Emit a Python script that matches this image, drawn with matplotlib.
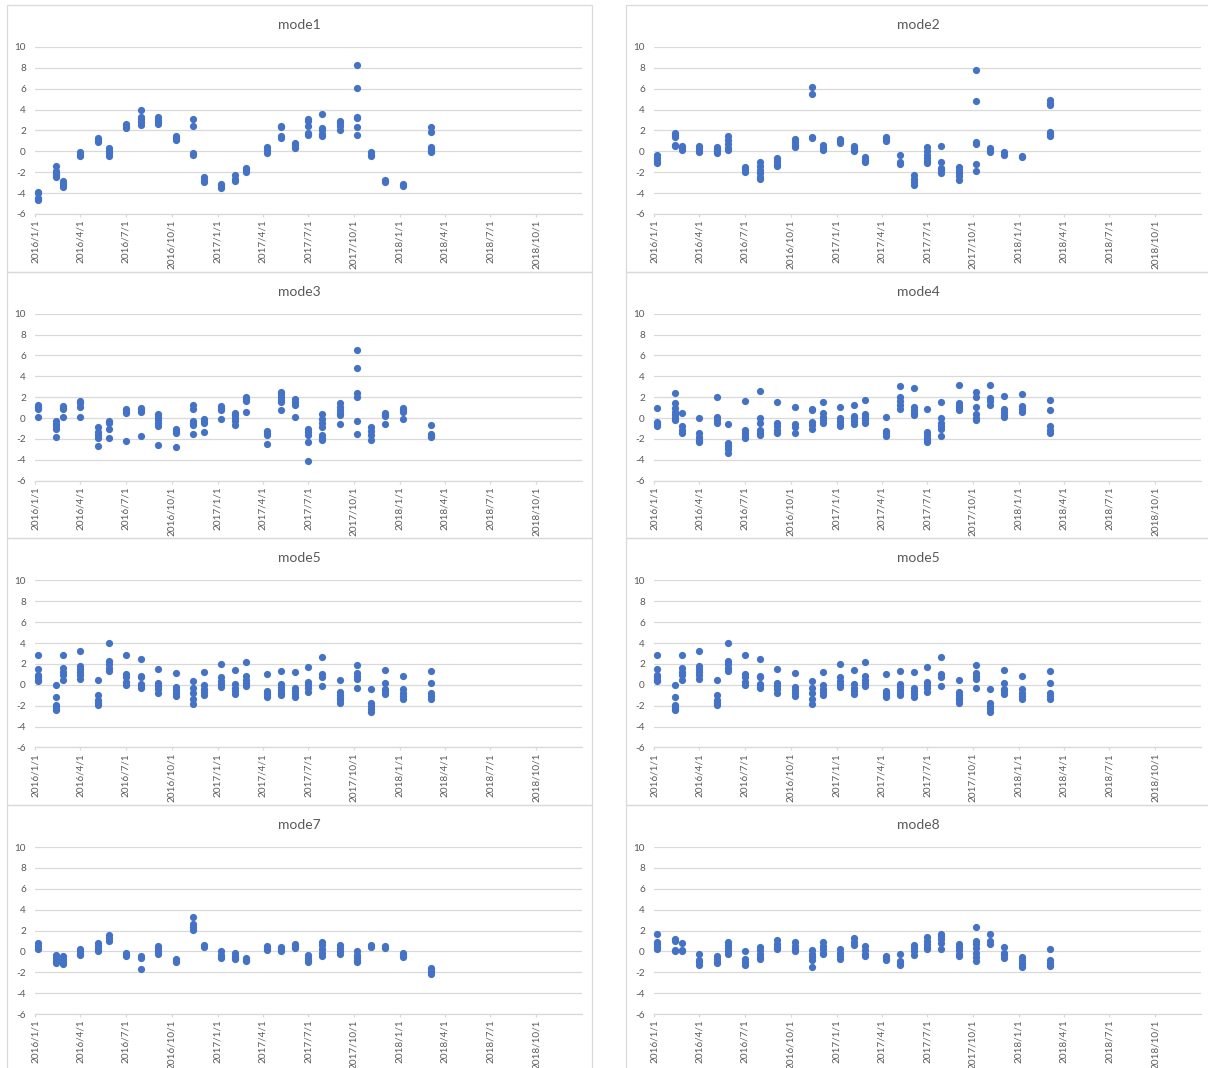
import matplotlib
matplotlib.use("Agg")
import matplotlib.pyplot as plt
import matplotlib.dates as mdates
from matplotlib.patches import Rectangle
import pandas as pd

plt.rcParams['font.family'] = ['Lato', 'DejaVu Sans']

# 采样日期（8个图共用）
dates = ['2016-01-08', '2016-02-13', '2016-02-27', '2016-04-01', '2016-05-07',
         '2016-05-29', '2016-07-02', '2016-07-31', '2016-09-04', '2016-10-09',
         '2016-11-12', '2016-12-04', '2017-01-08', '2017-02-05', '2017-02-26',
         '2017-04-09', '2017-05-08', '2017-06-04', '2017-07-02', '2017-07-30',
         '2017-09-03', '2017-10-08', '2017-11-04', '2017-12-02', '2018-01-07',
         '2018-03-04']

titles = ['mode1', 'mode2', 'mode3', 'mode4', 'mode5', 'mode5', 'mode7', 'mode8']

tick_dates = pd.date_range('2016-01-01', '2018-10-01', freq='QS')
yticks = [-6, -4, -2, 0, 2, 4, 6, 8, 10]

mode1 = [[-3.9, -4.0, -4.5, -4.6, -4.7], [-1.4, -1.9, -2.1, -2.3, -2.5], [-2.8, -3.0, -3.2, -3.4],
         [-0.1, -0.3, -0.4], [0.9, 1.1, 1.3], [0.3, 0.0, -0.2, -0.4], [2.2, 2.4, 2.6],
         [4.0, 3.3, 3.1, 2.8, 2.5], [3.3, 3.0, 2.8, 2.6], [1.5, 1.3, 1.1], [3.1, 2.4, -0.2, -0.3],
         [-2.5, -2.7, -2.9], [-3.1, -3.3, -3.5], [-2.3, -2.6, -2.8], [-1.6, -1.8, -2.0],
         [0.4, 0.1, -0.2], [2.4, 2.3, 1.5, 1.3], [0.8, 0.6, 0.3], [3.1, 2.9, 2.4, 1.8, 1.6],
         [3.6, 2.2, 2.0, 1.7, 1.5], [2.9, 2.7, 2.4, 2.0], [8.3, 6.1, 3.3, 3.2, 2.3, 1.6],
         [-0.1, -0.3, -0.4], [-2.7, -2.9], [-3.1, -3.3], [2.3, 1.9, 0.4, 0.2, 0.0, -0.1]]

mode2 = [[-0.3, -0.6, -0.9, -1.1], [1.8, 1.6, 1.4, 0.6, 0.5], [0.5, 0.3, 0.1],
         [0.5, 0.3, 0.0, -0.1], [0.4, 0.2, 0.0, -0.2], [1.5, 1.1, 0.7, 0.3, 0.1],
         [-1.5, -1.7, -2.0], [-1.0, -1.4, -1.8, -2.1, -2.5, -2.6], [-0.6, -0.9, -1.2, -1.4],
         [1.2, 0.9, 0.6, 0.4], [6.2, 5.5, 1.4, 1.3], [0.6, 0.3, 0.1], [1.2, 1.0, 0.8],
         [0.5, 0.3, 0.1, 0.0], [-0.5, -0.8, -1.0], [1.4, 1.2, 1.0], [-0.3, -1.0, -1.2],
         [-2.3, -2.6, -2.9, -3.2], [0.4, 0.0, -0.3, -0.6, -0.9, -1.1],
         [0.5, -1.0, -1.6, -1.8, -2.1], [-1.5, -1.8, -2.1, -2.4, -2.7],
         [7.8, 4.8, 0.9, 0.7, -1.2, -1.9], [0.3, 0.1, -0.1], [-0.1, -0.3], [-0.4, -0.5],
         [4.9, 4.6, 4.4, 1.9, 1.7, 1.5]]

mode3 = [[1.3, 1.1, 0.9, 0.1], [-0.3, -0.6, -0.8, -1.0, -1.8], [1.2, 1.0, 0.9, 0.1],
         [1.6, 1.4, 1.1, 0.1], [-0.9, -1.3, -1.6, -1.9, -2.7], [-0.3, -0.5, -1.0, -1.9],
         [0.9, 0.7, 0.5, -2.2], [1.0, 0.8, 0.6, -1.7], [0.4, 0.1, -0.2, -0.5, -0.8, -2.6],
         [-1.0, -1.2, -1.4, -2.8], [1.3, 0.9, -0.3, -0.5, -0.7, -1.5], [-0.1, -0.3, -0.5, -1.3],
         [1.2, 1.0, 0.8, -0.1], [0.5, 0.3, 0.0, -0.3, -0.7], [2.0, 1.8, 1.6, 0.6],
         [-1.2, -1.4, -1.6, -2.5], [2.5, 2.3, 2.0, 1.7, 1.5, 0.8], [1.8, 1.5, 1.3, 0.1],
         [-1.0, -1.3, -1.6, -2.3, -4.1], [0.4, -0.1, -0.5, -0.9, -1.6, -1.9, -2.1],
         [1.4, 1.1, 0.8, 0.5, 0.3, -0.6], [6.5, 4.8, 2.4, 2.0, -0.3, -1.5],
         [-0.9, -1.2, -1.6, -2.1], [0.5, 0.3, 0.2, -0.6], [1.0, 0.8, 0.6, -0.1],
         [-0.7, -1.5, -1.7, -1.8]]

mode4 = [[1.0, -0.4, -0.6, -0.8], [2.4, 1.4, 1.0, 0.6, 0.3, 0.0, -0.2], [0.5, -0.8, -1.1, -1.4],
         [0.0, -1.4, -1.8, -2.1, -2.3], [2.0, 0.1, -0.2, -0.5], [-0.6, -2.4, -2.7, -3.0, -3.3],
         [1.6, -1.1, -1.4, -1.7, -1.9], [2.6, 0.0, -0.5, -1.1, -1.4, -1.6],
         [1.5, -0.5, -0.8, -1.1, -1.4], [1.1, -0.6, -0.9, -1.4], [0.9, 0.8, -0.4, -0.7, -1.0],
         [1.5, 0.5, 0.1, -0.2, -0.5], [1.1, 0.0, -0.3, -0.6, -0.8], [1.3, 0.2, 0.0, -0.3, -0.6],
         [1.7, 0.4, 0.1, -0.2, -0.5], [0.1, -1.2, -1.4, -1.7], [3.1, 2.0, 1.6, 1.3, 0.9],
         [2.9, 1.1, 0.8, 0.5, 0.3], [0.9, -1.3, -1.6, -1.9, -2.1, -2.3],
         [1.5, 0.0, -0.5, -0.8, -1.0, -1.7], [3.2, 1.4, 1.2, 1.0, 0.8],
         [2.5, 2.0, 1.1, 0.4, 0.0, -0.2], [3.2, 1.9, 1.6, 1.3], [2.1, 0.9, 0.6, 0.3, 0.1],
         [2.3, 1.2, 0.9, 0.6], [1.7, 0.8, -0.8, -1.1, -1.4]]

mode5 = [[2.9, 1.5, 0.9, 0.7, 0.5, 0.4], [0.0, -1.2, -1.9, -2.1, -2.3, -2.4],
         [2.9, 1.6, 1.2, 0.9, 0.5], [3.2, 1.8, 1.5, 1.2, 0.9, 0.6], [0.5, -1.0, -1.5, -1.7, -1.9],
         [4.0, 2.3, 2.0, 1.6, 1.3], [2.9, 1.0, 0.7, 0.3, 0.0], [2.5, 0.8, 0.7, 0.1, -0.1, -0.3],
         [1.5, 0.2, -0.1, -0.4, -0.8], [1.1, -0.2, -0.5, -0.8, -1.1], [0.4, -0.3, -0.8, -1.4, -1.8],
         [1.2, 0.0, -0.4, -0.7, -1.0], [2.0, 0.7, 0.4, 0.1, -0.2], [1.4, 0.1, -0.3, -0.6, -0.9],
         [2.2, 0.8, 0.5, 0.2, -0.1], [1.0, -0.6, -0.8, -1.0, -1.2], [1.3, 0.1, -0.2, -0.5, -0.8, -1.0],
         [1.2, -0.3, -0.6, -0.9, -1.2], [1.7, 0.3, 0.0, -0.3, -0.7], [2.7, 1.0, 0.7, -0.1],
         [0.5, -0.7, -1.0, -1.3, -1.5, -1.7], [1.9, 1.1, 0.8, 0.6, -0.3],
         [-0.4, -1.7, -2.0, -2.3, -2.6], [1.4, 0.2, -0.4, -0.6, -0.9], [0.8, -0.4, -0.8, -1.1, -1.4],
         [1.3, 0.2, -0.8, -1.1, -1.4]]

mode7 = [[0.8, 0.5, 0.2], [-0.3, -0.6, -0.9, -1.1], [-0.4, -0.7, -1.0, -1.2], [0.2, 0.0, -0.2, -0.3],
         [0.8, 0.5, 0.2, 0.0], [1.6, 1.3, 1.0], [-0.1, -0.3, -0.4], [-0.4, -0.6, -1.7],
         [0.5, 0.3, 0.0, -0.2], [-0.7, -0.9, -1.0], [3.3, 2.6, 2.3, 2.1], [0.6, 0.4],
         [0.0, -0.3, -0.5, -0.6], [-0.1, -0.4, -0.6, -0.7], [-0.6, -0.8, -0.9], [0.5, 0.3, 0.1],
         [0.4, 0.2, 0.0], [0.7, 0.5, 0.3], [-0.3, -0.6, -0.8, -1.0], [0.9, 0.6, 0.2, -0.1, -0.4],
         [0.6, 0.3, 0.0, -0.2], [0.0, -0.3, -0.5, -0.8, -1.0], [0.6, 0.4], [0.5, 0.3],
         [-0.1, -0.3, -0.5], [-1.6, -1.8, -2.0, -2.2]]

mode8 = [[1.7, 0.9, 0.7, 0.4, 0.2], [1.2, 1.0, 0.1, 0.0], [0.8, 0.1, 0.0], [-0.2, -0.8, -1.0, -1.3],
         [-0.4, -0.7, -1.0, -1.1], [0.9, 0.6, 0.3, 0.0, -0.2], [0.0, -0.7, -1.0, -1.3],
         [0.4, 0.1, -0.2, -0.5, -0.7], [1.1, 0.7, 0.4, 0.2], [0.9, 0.5, 0.2, 0.0],
         [0.1, -0.2, -0.5, -0.8, -1.5], [0.9, 0.5, 0.2, -0.1, -0.2], [0.2, -0.1, -0.4, -0.7],
         [1.3, 0.9, 0.6], [0.5, 0.1, -0.2, -0.4], [-0.4, -0.6, -0.8], [-0.2, -0.9, -1.1, -1.3],
         [0.6, 0.3, 0.0, -0.3], [1.4, 1.0, 0.7, 0.4, 0.2], [1.7, 1.5, 1.2, 0.8, 0.2],
         [0.7, 0.4, 0.1, -0.2, -0.4], [2.3, 1.0, 0.7, 0.3, -0.1, -0.5, -0.9], [1.7, 1.0, 0.7],
         [0.4, -0.1, -0.3, -0.6], [-0.5, -0.8, -1.1, -1.3, -1.5], [0.2, -0.8, -1.1, -1.3, -1.4]]

all_modes = [mode1, mode2, mode3, mode4, mode5, mode5, mode7, mode8]

W, H = 1208, 1068
fig = plt.figure(figsize=(W / 100, H / 100), dpi=100)
fig.patch.set_facecolor('white')

grey = '#d9d9d9'
txt = '#595959'
blue = '#4472C4'
row_h = 266.7

x_dates = pd.to_datetime(dates)
for i, (name, vals) in enumerate(zip(titles, all_modes)):
    r, c = divmod(i, 2)
    # 面板边框
    bx0 = 7 if c == 0 else 626
    bx1 = 592 if c == 0 else 1215
    by0 = 5 + row_h * r
    fig.patches.append(Rectangle((bx0 / W, 1 - (by0 + row_h) / H), (bx1 - bx0) / W, row_h / H,
                                 transform=fig.transFigure, fill=False, edgecolor=grey, lw=0.9))
    # 坐标区
    ax_left = 35 if c == 0 else 654
    ax_top = 47 + row_h * r
    ax = fig.add_axes([ax_left / W, 1 - (ax_top + 167) / H, 547 / W, 167 / H])

    px, py = [], []
    for d, v in zip(x_dates, vals):
        px += [mdates.date2num(d)] * len(v)
        py += v
    ax.scatter(px, py, s=27, color=blue, linewidths=0, zorder=3, clip_on=False)

    ax.set_xlim(mdates.date2num(pd.Timestamp('2016-01-01')), mdates.date2num(pd.Timestamp('2019-01-01')))
    ax.set_ylim(-6, 10)
    ax.set_yticks(yticks)
    ax.set_yticklabels([str(v) for v in yticks])
    ax.set_xticks([mdates.date2num(d) for d in tick_dates])
    ax.set_xticklabels([f'{d.year}/{d.month}/{d.day}' for d in tick_dates], rotation=90)
    ax.grid(axis='y', color=grey, lw=0.9)
    ax.set_axisbelow(True)
    for s in ['top', 'left', 'right']:
        ax.spines[s].set_visible(False)
    ax.spines['bottom'].set_color(grey)
    ax.spines['bottom'].set_linewidth(0.9)
    ax.tick_params(axis='y', length=0, pad=6.5, labelsize=7.2, labelcolor=txt)
    ax.tick_params(axis='x', length=2.5, width=0.9, color=grey, pad=1.5, labelsize=7.2, labelcolor=txt)

    fig.text((bx0 + (592 - 7) / 2) / W, 1 - (25 + row_h * r) / H, name,
             ha='center', va='center', fontsize=10, color=txt)

fig.savefig('out.png', dpi=100, facecolor='white')
